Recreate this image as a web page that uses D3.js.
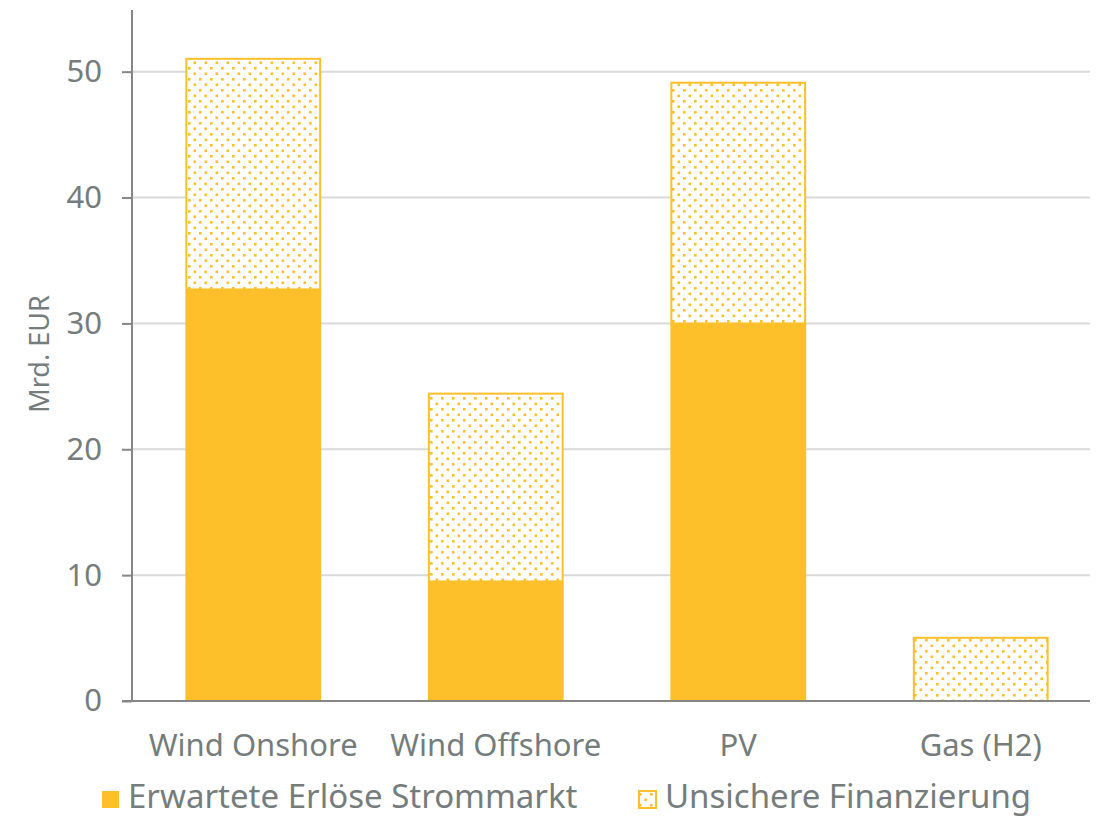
<!DOCTYPE html>
<html>
<head>
<meta charset="utf-8">
<script src="https://cdn.jsdelivr.net/npm/d3@7"></script>
<style>
  html, body { margin: 0; padding: 0; background: #fff; }
  svg { display: block; }
  text { font-family: "Noto Sans", "Open Sans", sans-serif; fill: #757d7c; }
</style>
</head>
<body>
<svg id="chart" width="1110" height="822"></svg>
<script>
// Investment volumes by technology (Mrd. EUR)
const categories = ["Wind Onshore", "Wind Offshore", "PV", "Gas (H2)"];
const erloese = [32.7, 9.5, 30.0, 0.0];      // Erwartete Erlöse Strommarkt
const unsicher = [18.4, 15.0, 19.2, 5.1];    // Unsichere Finanzierung
const yTicks = [0, 10, 20, 30, 40, 50];
const seriesNames = ["Erwartete Erlöse Strommarkt", "Unsichere Finanzierung"];

const gold = "#FDBF2A";
const svg = d3.select("#chart");

const margin = { left: 132, right: 8, top: 10, bottom: 121 };
const W = 1110, H = 822;

const x = d3.scaleBand()
  .domain(categories)
  .range([margin.left, W - margin.right])
  .paddingInner(0.44)
  .paddingOuter(0.22);

const y = d3.scaleLinear()
  .domain([0, 54.9])
  .range([H - margin.bottom, margin.top]);

// dotted fill pattern
const defs = svg.append("defs");
const pat = defs.append("pattern")
  .attr("id", "dots")
  .attr("patternUnits", "userSpaceOnUse")
  .attr("width", 11).attr("height", 11);
pat.append("rect").attr("width", 11).attr("height", 11).attr("fill", "#fff");
pat.append("rect").attr("x", 1).attr("y", 1).attr("width", 2.6).attr("height", 2.6).attr("fill", gold);
pat.append("rect").attr("x", 6.5).attr("y", 6.5).attr("width", 2.6).attr("height", 2.6).attr("fill", gold);

// grid lines
svg.append("g")
  .selectAll("line")
  .data(yTicks.filter(d => d > 0))
  .join("line")
  .attr("x1", margin.left).attr("x2", W - 20)
  .attr("y1", d => y(d)).attr("y2", d => y(d))
  .attr("stroke", "#d9d9d9").attr("stroke-width", 2);

// stacked bars
const stack = categories.map((c, i) => ({ c, a: erloese[i], b: unsicher[i] }));

svg.append("g")
  .selectAll("rect")
  .data(stack)
  .join("rect")
  .attr("x", d => x(d.c))
  .attr("width", x.bandwidth())
  .attr("y", d => y(d.a))
  .attr("height", d => y(0) - y(d.a))
  .attr("fill", gold);

svg.append("g")
  .selectAll("rect")
  .data(stack)
  .join("rect")
  .attr("x", d => x(d.c) + 1)
  .attr("width", x.bandwidth() - 2)
  .attr("y", d => y(d.a + d.b) + 1)
  .attr("height", d => y(d.a) - y(d.a + d.b) - 1)
  .attr("fill", "url(#dots)")
  .attr("stroke", gold)
  .attr("stroke-width", 2);

// y axis
const yAxis = svg.append("g")
  .attr("transform", `translate(${margin.left},0)`)
  .call(d3.axisLeft(y).tickValues(yTicks).tickSize(10).tickPadding(20));
yAxis.select(".domain").attr("d", `M0,${margin.top}V${y(0)}`).attr("stroke", "#868686").attr("stroke-width", 2);
yAxis.selectAll(".tick line").attr("stroke", "#868686").attr("stroke-width", 2);
yAxis.selectAll(".tick text")
  .style("font-family", '"Noto Sans", sans-serif')
  .attr("font-size", 31).attr("fill", "#757d7c");

// x baseline
svg.append("line")
  .attr("x1", margin.left - 10).attr("x2", W - 20)
  .attr("y1", y(0)).attr("y2", y(0))
  .attr("stroke", "#868686").attr("stroke-width", 2);

// category labels
svg.append("g")
  .selectAll("text")
  .data(categories)
  .join("text")
  .attr("x", d => x(d) + x.bandwidth() / 2)
  .attr("y", 756)
  .attr("text-anchor", "middle")
  .attr("font-size", 31)
  .text(d => d);

// y axis title
svg.append("text")
  .attr("transform", `translate(49,354) rotate(-90)`)
  .attr("text-anchor", "middle")
  .attr("font-size", 27)
  .text("Mrd. EUR");

// legend
const legend = [
  { name: seriesNames[0], fill: gold, x: 101 },
  { name: seriesNames[1], fill: "url(#dots)", x: 638 }
];
const lg = svg.append("g").selectAll("g").data(legend).join("g")
  .attr("transform", d => `translate(${d.x},0)`);
lg.append("rect")
  .attr("x", 1).attr("y", 791).attr("width", 17).attr("height", 17)
  .attr("fill", d => d.fill)
  .attr("stroke", gold).attr("stroke-width", d => d.fill === gold ? 0 : 2);
lg.append("text")
  .attr("x", 27).attr("y", 808)
  .attr("font-size", 33)
  .text(d => d.name);
</script>
</body>
</html>
